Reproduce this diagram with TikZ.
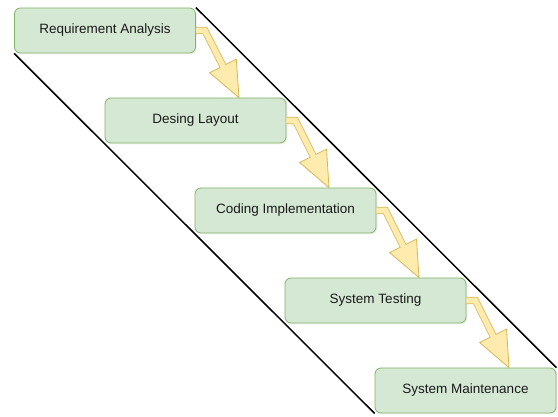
\documentclass[tikz,border=0pt]{standalone}
\usepackage{fontspec}
\setmainfont{Liberation Sans}
\usetikzlibrary{calc,shadows}
\definecolor{boxfill}{HTML}{D5E8D4}
\definecolor{boxline}{HTML}{82B366}
\definecolor{arrfill}{HTML}{FFEBAD}
\definecolor{arrline}{HTML}{D6B656}
\definecolor{txt}{HTML}{1A1A1A}
\begin{document}
\begin{tikzpicture}[x=1pt,y=-1pt,
  stage/.style={draw=boxline, fill=boxfill, rounded corners=6pt, minimum width=181pt, minimum height=45pt, inner sep=0pt, line width=0.8pt, text=txt, font=\fontsize{13.5}{16}\selectfont, drop shadow={shadow xshift=1.5pt, shadow yshift=-1.5pt, opacity=0.12}},
  diag/.style={line width=1.5pt, black},
  shaftout/.style={line width=7.2pt, arrline, line join=miter},
  shaftin/.style={line width=5.6pt, arrfill, line join=miter},
  headstyle/.style={fill=arrfill, draw=arrline, line width=0.8pt, line join=miter}]
\useasboundingbox (0,0) rectangle (558,417);
\node[stage] (s1) at (105,30.5) {Requirement Analysis};
\node[stage] (s2) at (195.5,120.5) {Desing Layout};
\node[stage] (s3) at (285.5,210.5) {Coding Implementation};
\node[stage] (s4) at (375.5,300.5) {System Testing};
\node[stage] (s5) at (465.5,390.5) {System Maintenance};
\draw[diag] (s1.north east) -- (s5.north east);
\draw[diag] (s1.south west) -- (s5.south west);
\foreach \a/\b in {s1/s2,s2/s3,s3/s4,s4/s5}{
  \coordinate (bend-\a) at ($(\a.east)+(9,0)$);
  \coordinate (tip-\a) at ($(\b.north)+(43.5,0)$);
  \coordinate (base-\a) at ($(tip-\a)!35.5pt!(bend-\a)$);
  \coordinate (over-\a) at ($(tip-\a)!34pt!(bend-\a)$);
  \draw[shaftout] (\a.east) -- (bend-\a) -- (base-\a);
  \draw[headstyle] ($(base-\a)!15pt!90:(tip-\a)$) -- (tip-\a) -- ($(base-\a)!15pt!-90:(tip-\a)$) -- cycle;
  \draw[shaftin] (\a.east) -- (bend-\a) -- (over-\a);
}
\end{tikzpicture}
\end{document}
